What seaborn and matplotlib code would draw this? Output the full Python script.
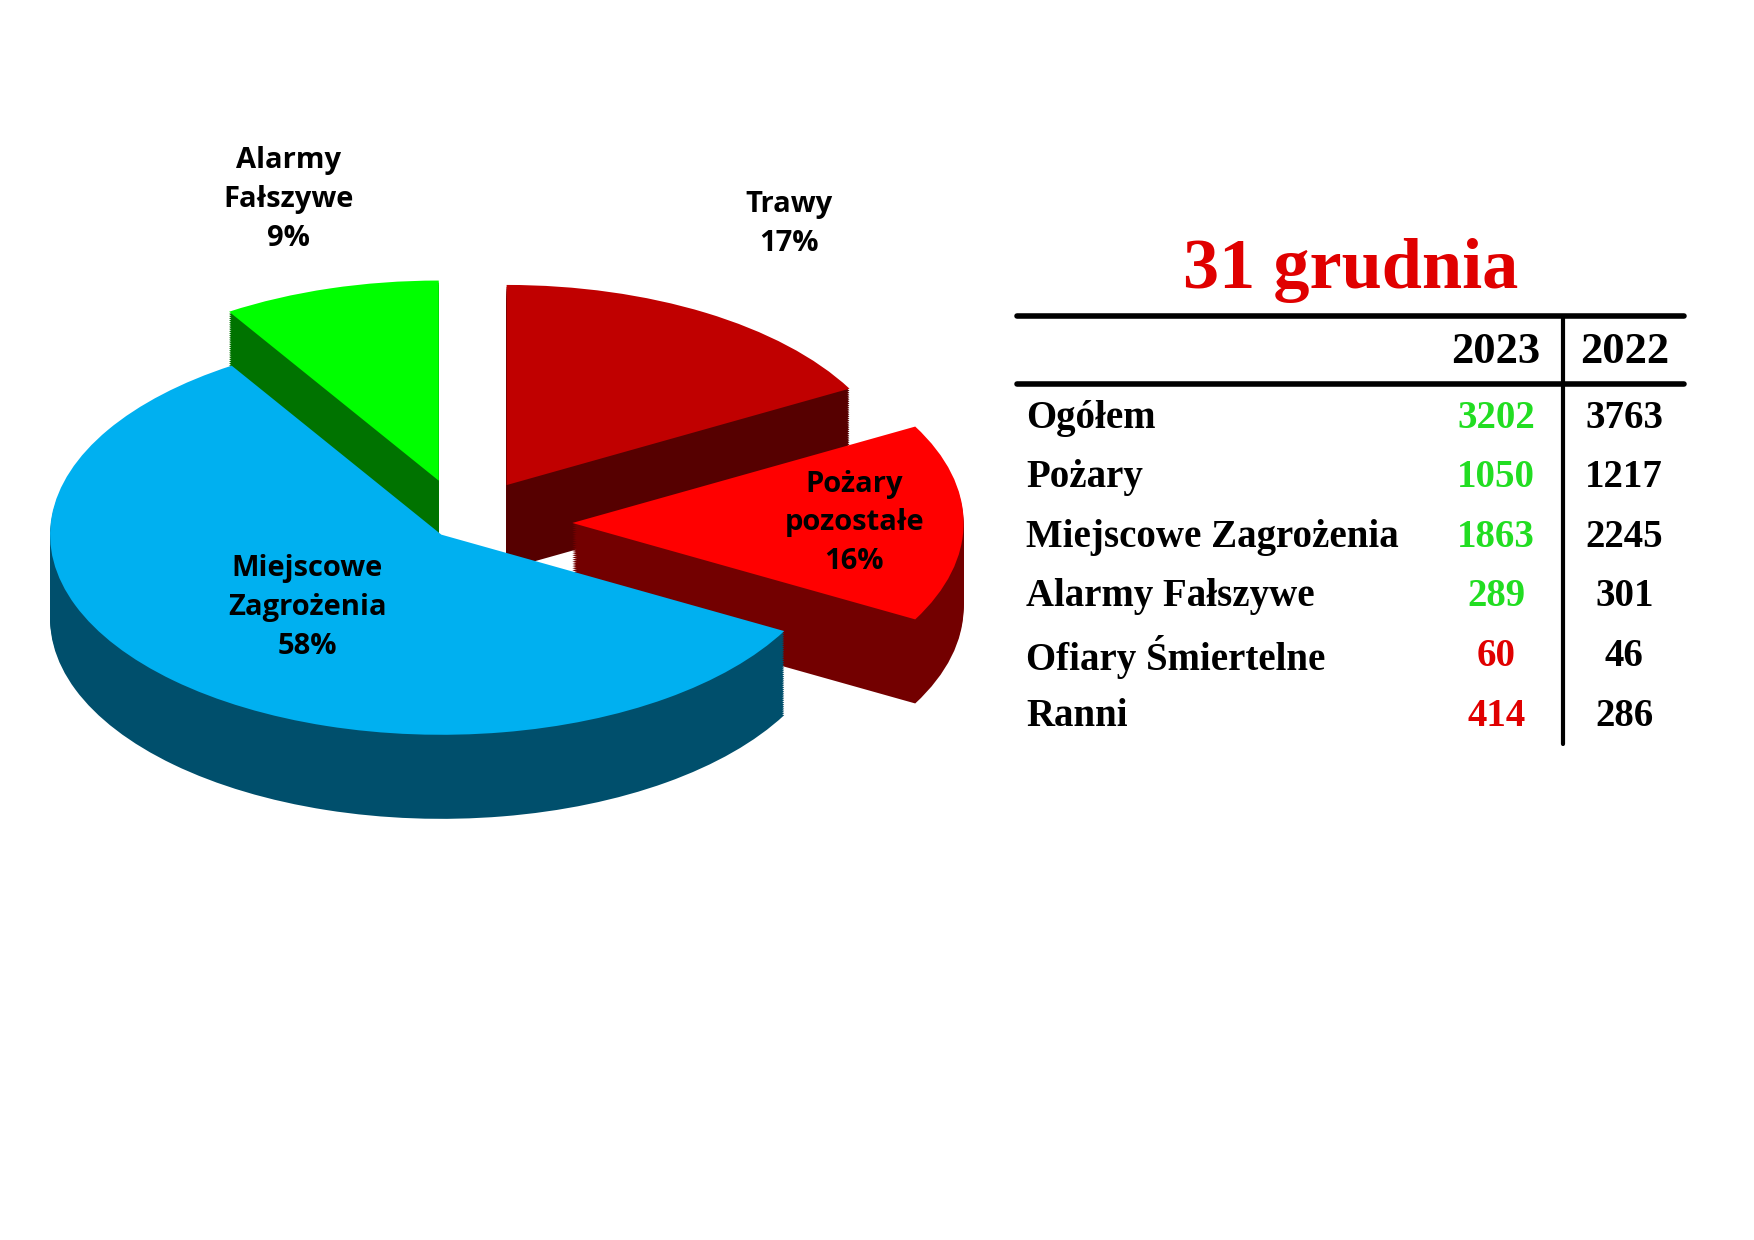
import numpy as np
import matplotlib
matplotlib.use("Agg")
import matplotlib.pyplot as plt
import matplotlib.colors as mcolors
import seaborn as sns

# --- dane ---
slice_labels = ["Alarmy\nFałszywe", "Miejscowe\nZagrożenia", "Pożary\npozostałe", "Trawy"]
slice_pct = [9, 58, 16, 17]
slice_colors = ["#00ff00", "#00b0f0", "#ff0000", "#c00000"]
slice_explode = [0.22, 0.08, 0.28, 0.22]

row_names = ["Ogółem", "Pożary", "Miejscowe Zagrożenia", "Alarmy Fałszywe",
             "Ofiary Śmiertelne", "Ranni"]
vals_2023 = [3202, 1050, 1863, 289, 60, 414]
vals_2022 = [3763, 1217, 2245, 301, 46, 286]
colors_2023 = ["#22dd22"] * 4 + ["#e00000"] * 2
years = ["2023", "2022"]
title = "31 grudnia"

sns.set_theme(style="white")
plt.rcParams["font.family"] = ["DejaVu Sans"]
plt.rcParams["text.color"] = "black"

fig = plt.figure(figsize=(17.54, 12.4), dpi=100)

# --- pseudo-3D tort ---
ax = fig.add_axes([-0.015, 0.32, 0.58, 0.46])
depth = 0.42
dark = [tuple(c * 0.45 for c in mcolors.to_rgb(col)) for col in slice_colors]
for k in np.linspace(depth, 0.0, 40)[:-1]:
    ax.pie(slice_pct, colors=dark, explode=slice_explode, startangle=90,
           counterclock=True, center=(0, -k), radius=1.0,
           wedgeprops=dict(linewidth=0))
wedges, _ = ax.pie(slice_pct, colors=slice_colors, explode=slice_explode,
                   startangle=90, counterclock=True, radius=1.0,
                   wedgeprops=dict(linewidth=0))
ax.set_xlim(-1.25, 1.35)
ax.set_ylim(-1.6, 1.25)
ax.set_aspect("auto")
ax.axis("off")

label_dist = [1.38, 0.5, 0.72, 1.42]
for w, lab, pct, d, ex in zip(wedges, slice_labels, slice_pct, label_dist, slice_explode):
    ang = np.deg2rad((w.theta1 + w.theta2) / 2)
    r = d + ex
    ax.text(r * np.cos(ang), r * np.sin(ang) + (0.08 if d > 1 else 0),
            f"{lab}\n{pct}%", ha="center", va="center", fontsize=21,
            fontweight="bold", family="Open Sans", linespacing=1.45,
            color="black", clip_on=False)

# --- tabela ---
serif = "Liberation Serif"
fig.text(0.77, 0.782, title, color="#e00000", fontsize=52, fontweight="bold",
         family=serif, ha="center", va="center")
fig.add_artist(plt.Line2D([0.58, 0.96], [0.745, 0.745], color="black", lw=4))
fig.add_artist(plt.Line2D([0.58, 0.96], [0.69, 0.69], color="black", lw=4))
fig.add_artist(plt.Line2D([0.891, 0.891], [0.745, 0.40], color="black", lw=3))
fig.text(0.853, 0.716, years[0], fontsize=32, fontweight="bold", family=serif,
         ha="center", va="center", color="black")
fig.text(0.926, 0.716, years[1], fontsize=32, fontweight="bold", family=serif,
         ha="center", va="center", color="black")
row_y = 1 - np.array([372, 425, 478, 531, 584, 637]) / 1103
for y, name, a, b, c in zip(row_y, row_names, vals_2023, vals_2022, colors_2023):
    fig.text(0.585, y, name, fontsize=28, fontweight="bold", family=serif,
             ha="left", va="center", color="black")
    fig.text(0.853, y, str(a), fontsize=28, fontweight="bold", family=serif,
             ha="center", va="center", color=c)
    fig.text(0.926, y, str(b), fontsize=28, fontweight="bold", family=serif,
             ha="center", va="center", color="black")

fig.savefig("out.png", dpi=100)
